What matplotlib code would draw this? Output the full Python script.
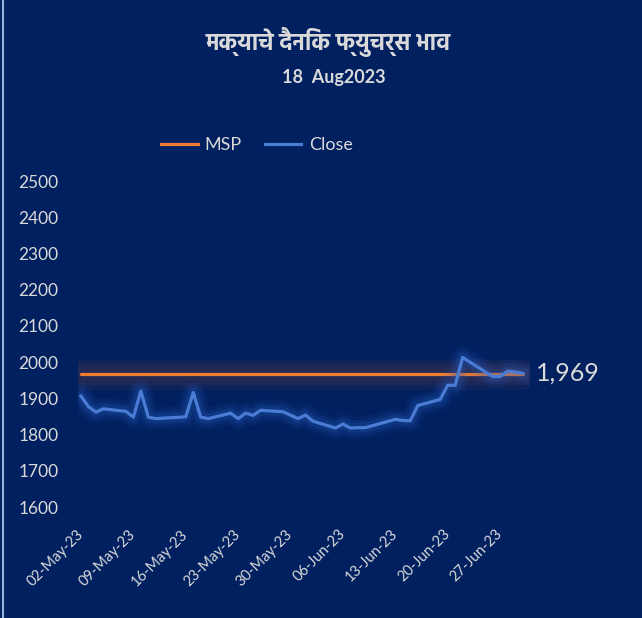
import numpy as np
import matplotlib
matplotlib.use("Agg")
import matplotlib.pyplot as plt
import matplotlib.dates as mdates
import matplotlib.patheffects as pe
from matplotlib import font_manager
from matplotlib.ft2font import FT2Font
from matplotlib.lines import Line2D

# data
dates = ["2023-05-02", "2023-05-03", "2023-05-04", "2023-05-05", "2023-05-08",
         "2023-05-09", "2023-05-10", "2023-05-11", "2023-05-12", "2023-05-16",
         "2023-05-17", "2023-05-18", "2023-05-19", "2023-05-22", "2023-05-23",
         "2023-05-24", "2023-05-25", "2023-05-26", "2023-05-29", "2023-05-31",
         "2023-06-01", "2023-06-02", "2023-06-05", "2023-06-06", "2023-06-07",
         "2023-06-08", "2023-06-09", "2023-06-13", "2023-06-14", "2023-06-15",
         "2023-06-16", "2023-06-19", "2023-06-20", "2023-06-21", "2023-06-22",
         "2023-06-26", "2023-06-27", "2023-06-28", "2023-06-29", "2023-06-30"]
close = [1906, 1877, 1862, 1871, 1864, 1848, 1920, 1848, 1844, 1849,
         1916, 1848, 1844, 1859, 1844, 1859, 1853, 1867, 1863, 1844,
         1854, 1837, 1818, 1829, 1818, 1819, 1819, 1842, 1839, 1838,
         1880, 1897, 1936, 1936, 2013, 1960, 1960, 1975, 1973, 1969]
msp = [1966] * len(dates)
tick_dates = ["2023-05-02", "2023-05-09", "2023-05-16", "2023-05-23", "2023-05-30",
              "2023-06-06", "2023-06-13", "2023-06-20", "2023-06-27"]
yticks = [1600, 1700, 1800, 1900, 2000, 2100, 2200, 2300, 2400, 2500]

title = "मक्याचे दैनिक फ्युचर्स भाव"
subtitle = "18  Aug2023"

# pick a devanagari font, one with a bold face if possible
found = {}
for f in font_manager.fontManager.ttflist:
    try:
        if ord("म") in FT2Font(f.fname).get_charmap():
            found.setdefault(f.name, set()).add(f.weight)
    except Exception:
        pass

def is_bold(ws):
    return any((w if isinstance(w, int) else 400) >= 600 or w in ("bold", "semibold") for w in ws)

deva = None
prefs = ["Noto Sans Devanagari", "Hind", "Mukta", "Poppins", "Lohit Devanagari",
         "Anek Devanagari", "Annapurna SIL", "Amiko"]
for name in prefs:
    if name in found and is_bold(found[name]):
        deva = name
        break
if deva is None:
    for name in prefs:
        if name in found:
            deva = name
            break
if deva is None and found:
    deva = sorted(found)[0]

bg = "#002060"
txt = "#d9d9d9"
orange = "#ED7D31"
blue = "#4A7CD6"
plt.rcParams["font.family"] = ["Lato", "DejaVu Sans"]

x = np.array(dates, dtype="datetime64[D]")
fig = plt.figure(figsize=(6.42, 6.18), dpi=100, facecolor=bg)
ax = fig.add_axes([78 / 642, 111 / 618, 452 / 642, 326 / 618], facecolor=bg)

glow_msp = [pe.Stroke(linewidth=w, foreground="#3a3050", alpha=a) for w, a in [(22, 0.25), (16, 0.3), (10, 0.35)]]
glow_close = [pe.Stroke(linewidth=w, foreground="#2f5fc0", alpha=a) for w, a in [(16, 0.10), (11, 0.13), (7, 0.18)]]

ax.plot(x, msp, color=orange, lw=2.3, solid_capstyle="round",
        path_effects=glow_msp + [pe.Normal()])
ax.plot(x, close, color=blue, lw=2.3, solid_joinstyle="round",
        path_effects=glow_close + [pe.Normal()])

ax.set_ylim(1600, 2500)
ax.set_yticks(yticks)
x0 = np.datetime64("2023-05-02")
ax.set_xlim(mdates.date2num(x0) - 0.4, mdates.date2num(x0) + 60)
ax.set_xticks(mdates.date2num(np.array(tick_dates, dtype="datetime64[D]")))
ax.xaxis.set_major_formatter(mdates.DateFormatter("%d-%b-%y"))
for s in ax.spines.values():
    s.set_visible(False)
ax.tick_params(length=0, colors=txt)
ax.tick_params(axis="y", labelsize=12.5, pad=14)
ax.tick_params(axis="x", labelsize=10.5, pad=18)
for lab in ax.get_xticklabels():
    lab.set_rotation(45)
    lab.set_ha("right")
    lab.set_va("center")
    lab.set_rotation_mode("anchor")

ax.annotate(f"{close[-1]:,}", xy=(mdates.date2num(x[-1]), close[-1]), xytext=(10, 0),
            textcoords="offset points", color=txt, fontsize=18, va="center",
            annotation_clip=False)

handles = [Line2D([], [], color=orange, lw=2.3), Line2D([], [], color=blue, lw=2.3)]
leg = fig.legend(handles, ["MSP", "Close"], loc="center",
                 bbox_to_anchor=(257 / 642, 1 - 145 / 618), ncol=2,
                 frameon=False, fontsize=13, handlelength=2.0, columnspacing=1.3,
                 handletextpad=0.4)
for t in leg.get_texts():
    t.set_color(txt)

tfam = [deva, "DejaVu Sans"] if deva else ["DejaVu Sans"]
fig.text(328 / 642, 1 - 42 / 618, title, ha="center", va="center", color=txt,
         fontsize=16.5, fontweight="bold", family=tfam)
fig.text(334 / 642, 1 - 78 / 618, subtitle, ha="center", va="center", color=txt,
         fontsize=13, fontweight="bold")

fig.add_artist(Line2D([2.5 / 642, 2.5 / 642], [0, 1], color="#9ab0dd", lw=1.5))

fig.savefig("out.png", dpi=100, facecolor=bg)
